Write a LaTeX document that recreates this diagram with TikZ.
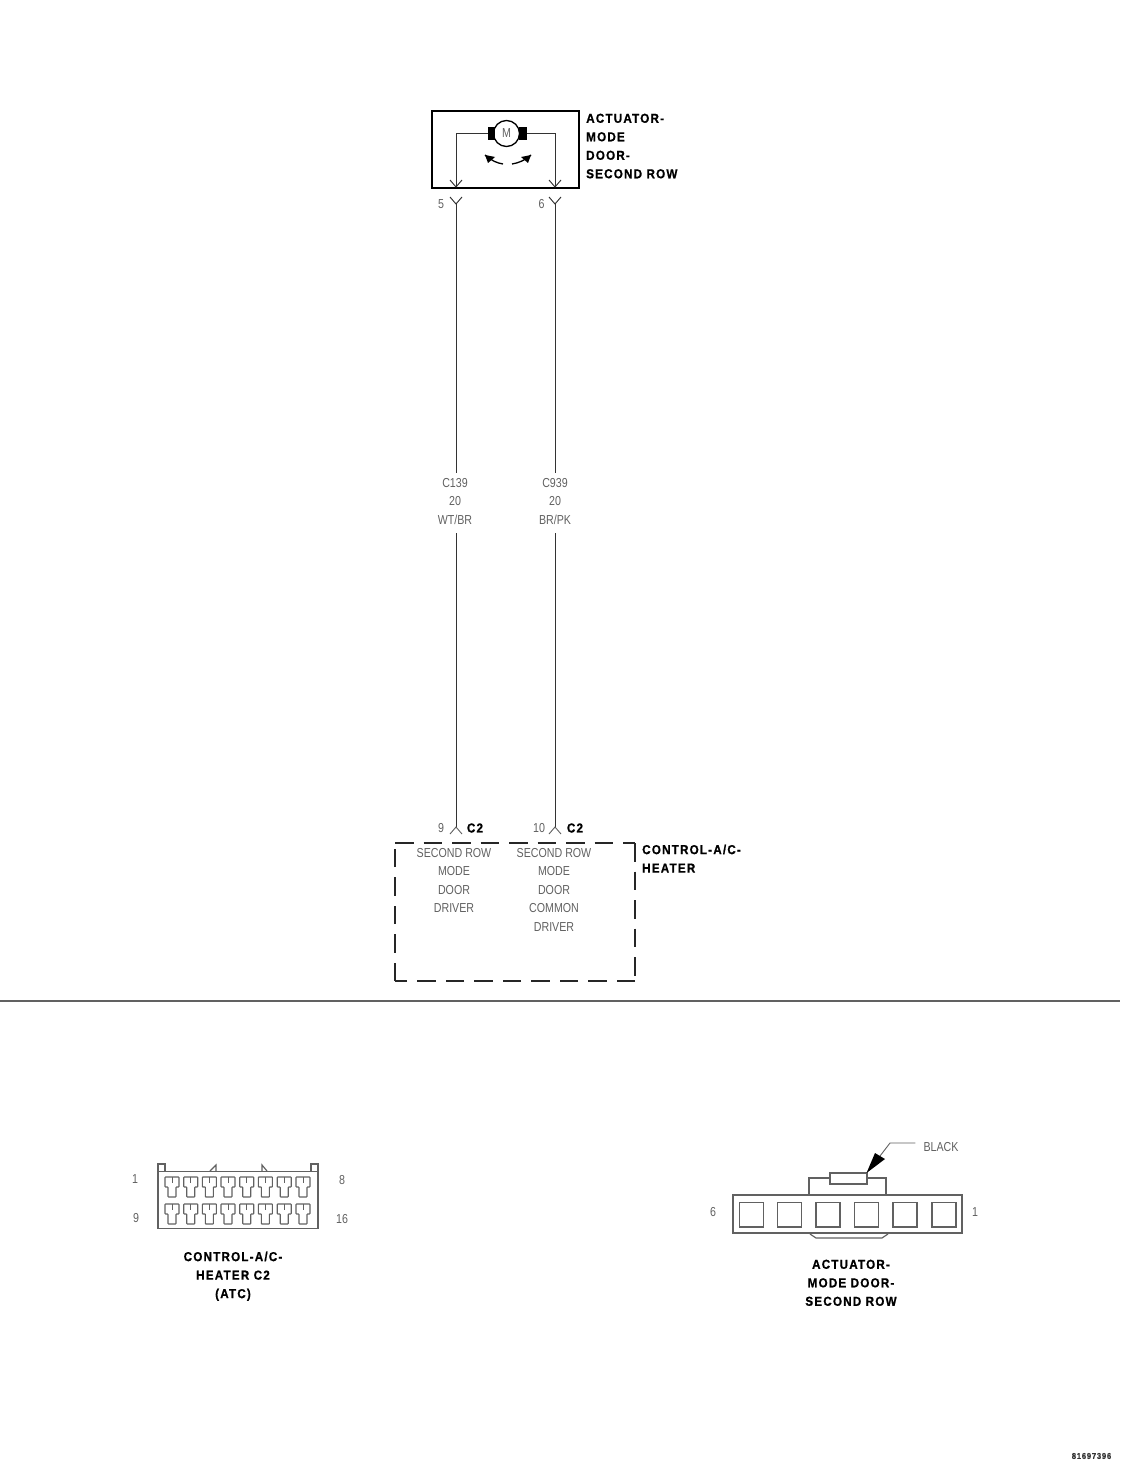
\documentclass[tikz,border=0pt]{standalone}
\usepackage{fontspec}
\setmainfont{Liberation Sans}
\newfontfamily\thinfont[FakeStretch=0.82]{Liberation Sans}
\newfontfamily\boldfont[FakeStretch=0.9,LetterSpace=9,FakeBold=0.8]{Liberation Sans Bold}
\definecolor{inkdark}{gray}{0.2}
\definecolor{inkthin}{gray}{0.38}
\tikzset{
  thinlabel/.style={inner sep=0pt,text=inkthin,font=\thinfont\fontsize{13}{18.5}\selectfont,align=center},
  boldlabel/.style={inner sep=0pt,text=black,font=\boldfont\fontsize{13}{18.5}\selectfont,align=left},
  boldcentre/.style={boldlabel,align=center},
  wire/.style={draw=inkdark,line width=0.95pt},
  thinline/.style={draw=inkthin,line width=0.9pt},
  dashbox/.style={draw=black!85,line width=2.5pt,dash pattern=on 18.5pt off 10pt},
  pinbox/.style={draw=inkthin,line width=1.2pt}
}
\begin{document}
\begin{tikzpicture}[x=1pt,y=-1pt]
\useasboundingbox (0,0) rectangle (1120,1466);
% actuator
\node[draw=black,line width=1.9pt,minimum width=147pt,minimum height=77pt,inner sep=0pt] (actbox) at (505.5,149.5) {};
\node[draw=black,line width=1.3pt,circle,minimum size=26pt,inner sep=0pt,text=inkthin,font=\thinfont\fontsize{13}{13}\selectfont] (motor) at (506.5,133.5) {M};
\node[fill=black,minimum width=7.5pt,minimum height=13pt,inner sep=0pt] (brushL) at (491.5,133.5) {};
\node[fill=black,minimum width=7.5pt,minimum height=13pt,inner sep=0pt] (brushR) at (523,133.5) {};
\coordinate (tipA) at (456,187);
\coordinate (tipB) at (555,187);
\draw[wire] (brushL.west) -| (tipA);
\draw[wire] (brushR.east) -| (tipB);
\draw[wire] (450,180) -- (tipA) -- (462,180);
\draw[wire] (549,180) -- (tipB) -- (561,180);
\coordinate (arcLa) at (503,164);
\coordinate (arcLb) at (485,155);
\coordinate (arcRa) at (512,164);
\coordinate (arcRb) at (531,155);
\draw[draw=black,line width=1.3pt] (arcLa) .. controls (497,163) and (492,161) .. (arcLb);
\draw[draw=black,line width=1.3pt] (arcRa) .. controls (518,163) and (524,161) .. (arcRb);
\fill[black] (arcLb) -- (495,157) -- (488,163) -- cycle;
\fill[black] (arcRb) -- (521,157) -- (528,163) -- cycle;
\node[boldlabel,anchor=north west] (acttitle) at (586,113.5) {ACTUATOR-\\MODE\\DOOR-\\SECOND ROW};
% top connector
\coordinate (yA) at (456,204);
\coordinate (yB) at (555,204);
\draw[wire] (450,197) -- (yA) -- (462,197);
\draw[wire] (549,197) -- (yB) -- (561,197);
\node[thinlabel] (pin5) at (441,204) {5};
\node[thinlabel] (pin6) at (541.5,204) {6};
% wire labels
\node[thinlabel] (wlabA) at (455,501.5) {C139\\20\\WT/BR};
\node[thinlabel] (wlabB) at (555,501.5) {C939\\20\\BR/PK};
\draw[wire] (yA) -- (456,473);
\draw[wire] (yB) -- (555,473);
\coordinate (iA) at (456,827);
\coordinate (iB) at (555,827);
\draw[wire] (456,533) -- (iA);
\draw[wire] (555,533) -- (iB);
\draw[thinline] (450,834) -- (iA) -- (462,834);
\draw[thinline] (549,834) -- (iB) -- (561,834);
\node[thinlabel] (pin9) at (441,828) {9};
\node[thinlabel] (pin10) at (539,828) {10};
\node[boldlabel] (c2a) at (475,828) {C2};
\node[boldlabel] (c2b) at (575,828) {C2};
% control box
\draw[dashbox] (395,843) -- (635,843);
\draw[dashbox] (635,843) -- (635,981);
\draw[dashbox] (635,981) -- (395,981);
\draw[dashbox] (395,981) -- (395,843);
\node[thinlabel,anchor=north] (drvA) at (454,848) {SECOND ROW\\MODE\\DOOR\\DRIVER};
\node[thinlabel,anchor=north] (drvB) at (554,848) {SECOND ROW\\MODE\\DOOR\\COMMON\\DRIVER};
\node[boldlabel,anchor=north west] (ctltitle) at (642,844.5) {CONTROL-A/C-\\HEATER};
% divider
\draw[draw=inkthin,line width=1.1pt] (0,1001) -- (1120,1001);
% C2 connector view
\node[pinbox,minimum width=160pt,minimum height=57pt,inner sep=0pt] (c2box) at (238,1200) {};
\draw[pinbox] (158,1171) -- (158,1164) -- (165,1164) -- (165,1171);
\draw[pinbox] (311,1171) -- (311,1164) -- (318,1164) -- (318,1171);
\draw[pinbox] (210,1171) -- (216,1165) -- (216,1171);
\draw[pinbox] (262,1171) -- (262,1165) -- (267,1171);
\foreach \cx in {172,190.7,209.4,228,246.7,265.4,284.2,303}{
  \foreach \cy in {1177,1204}{
    \draw[pinbox,line width=1.1pt,rounded corners=0.6pt]
      (\cx-7,\cy) -- (\cx+7,\cy) -- (\cx+7,\cy+10) -- (\cx+4,\cy+10) -- (\cx+4,\cy+20)
      -- (\cx-4,\cy+20) -- (\cx-4,\cy+10) -- (\cx-7,\cy+10) -- cycle;
    \draw[pinbox,line width=0.9pt] (\cx,\cy) -- (\cx,\cy+6);
  }
}
\node[thinlabel] (n1) at (135,1179) {1};
\node[thinlabel] (n8) at (342,1180) {8};
\node[thinlabel] (n9) at (136,1218) {9};
\node[thinlabel] (n16) at (342,1219) {16};
\node[boldcentre,anchor=north] (c2title) at (233,1251.5) {CONTROL-A/C-\\HEATER C2\\(ATC)};
% actuator connector view
\node[pinbox,minimum width=229pt,minimum height=38pt,inner sep=0pt] (acbox) at (847.5,1214) {};
\foreach \sx in {739.5,777.5,816,854.5,893,932}{
  \draw[pinbox,line width=1.3pt] (\sx,1202.5) rectangle (\sx+24,1227);
}
\draw[pinbox] (809,1195) -- (809,1178) -- (830,1178);
\draw[pinbox] (867,1178) -- (886,1178) -- (886,1195);
\node[pinbox,minimum width=37pt,minimum height=11pt,inner sep=0pt] (key) at (848.5,1178.5) {};
\draw[pinbox] (810,1234) -- (816,1238) -- (882,1238) -- (888,1234);
\node[thinlabel] (blk) at (941,1147) {BLACK};
\node[thinlabel] (n6r) at (713,1212) {6};
\node[thinlabel] (n1r) at (975,1212) {1};
\coordinate (lead) at (890,1143);
\draw[thinline] (blk.west) ++(-8,-4) -- (lead) -- (880,1156);
\fill[black] (866.5,1173) -- (875,1153) -- (885,1159) -- cycle;
\node[boldcentre,anchor=north] (actview) at (851,1259.5) {ACTUATOR-\\MODE DOOR-\\SECOND ROW};
\node[inner sep=0pt,text=inkdark,font=\boldfont\fontsize{8.5}{8.5}\selectfont] (ref) at (1091.5,1456) {81697396};
\end{tikzpicture}
\end{document}
